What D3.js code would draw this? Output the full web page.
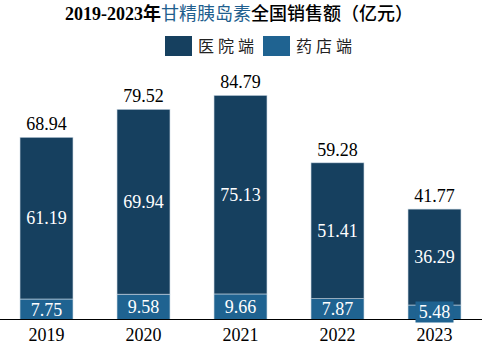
<!DOCTYPE html>
<html>
<head>
<meta charset="utf-8">
<script src="https://cdn.jsdelivr.net/npm/d3@7"></script>
<style>
html,body{margin:0;padding:0;background:#fff;}
svg{display:block;}
</style>
</head>
<body>
<svg id="chart" width="490" height="349"></svg>
<script>
const years = ["2019", "2020", "2021", "2022", "2023"];
const hospital = [61.19, 69.94, 75.13, 51.41, 36.29];
const pharmacy = [7.75, 9.58, 9.66, 7.87, 5.48];
const totals = [68.94, 79.52, 84.79, 59.28, 41.77];
const seriesNames = ["医院端", "药店端"];

const colHosp = "#16405f";
const colPharm = "#1f6391";
const numFont = "'Liberation Serif', 'Times New Roman', serif";
const cjkFont = "'Liberation Serif', 'Noto Sans CJK SC', serif";

const svg = d3.select("#chart");

const x = d3.scaleBand().domain(years).range([-2, 483]).paddingInner(0.454).paddingOuter(0.227);
const y = d3.scaleLinear().domain([0, 100]).range([319.5, 55.2]);

const data = years.map((yr, i) => ({year: yr, hosp: hospital[i], pharm: pharmacy[i], total: totals[i]}));

// pharmacy segments (bottom)
svg.selectAll("rect.pharm").data(data).join("rect")
  .attr("class", "pharm")
  .attr("x", d => x(d.year))
  .attr("width", x.bandwidth())
  .attr("y", d => y(d.pharm))
  .attr("height", d => y(0) - y(d.pharm))
  .attr("fill", colPharm)
  .attr("stroke", "#c9d6e2").attr("stroke-width", 0.6);

// hospital segments (top)
svg.selectAll("rect.hosp").data(data).join("rect")
  .attr("class", "hosp")
  .attr("x", d => x(d.year))
  .attr("width", x.bandwidth())
  .attr("y", d => y(d.pharm + d.hosp))
  .attr("height", d => y(d.pharm) - y(d.pharm + d.hosp))
  .attr("fill", colHosp)
  .attr("stroke", "#c9d6e2").attr("stroke-width", 0.6);

// axis
const xAxis = d3.axisBottom(x).tickSize(0).tickPadding(9);
const gx = svg.append("g").attr("transform", `translate(0,${y(0)})`).call(xAxis);
gx.select(".domain").attr("d", "M0,0H482").attr("stroke", "#000").attr("stroke-width", 1.2);
gx.selectAll("text").attr("font-family", numFont).attr("font-size", 18).attr("fill", "#000").attr("dy", "0.71em");

// hospital labels
svg.selectAll("text.hl").data(data).join("text")
  .attr("class", "hl")
  .attr("x", d => x(d.year) + x.bandwidth() / 2)
  .attr("y", d => (y(d.pharm) + y(d.pharm + d.hosp)) / 2)
  .attr("dy", "0.35em")
  .attr("text-anchor", "middle")
  .attr("font-family", numFont).attr("font-size", 18).attr("fill", "#fff")
  .text(d => d.hosp.toFixed(2));

// pharmacy labels with background box
const pl = svg.selectAll("g.pl").data(data).join("g").attr("class", "pl")
  .attr("transform", d => `translate(${x(d.year) + x.bandwidth() / 2},${Math.min((y(0) + y(d.pharm)) / 2, y(0) - 7.5)})`);
pl.append("rect")
  .attr("x", -19).attr("y", -10.5).attr("width", 38).attr("height", 21)
  .attr("fill", colPharm)
  .attr("display", d => (y(0) - y(d.pharm)) < 18 ? null : "none");
pl.append("text")
  .attr("dy", "0.35em")
  .attr("text-anchor", "middle")
  .attr("font-family", numFont).attr("font-size", 18).attr("fill", "#fff")
  .text(d => d.pharm.toFixed(2));

// totals
svg.selectAll("text.tot").data(data).join("text")
  .attr("class", "tot")
  .attr("x", d => x(d.year) + x.bandwidth() / 2)
  .attr("y", d => y(d.total) - 7)
  .attr("text-anchor", "middle")
  .attr("font-family", numFont).attr("font-size", 18).attr("fill", "#000")
  .text(d => d.total.toFixed(2));

// title
const title = svg.append("text").attr("x", 239).attr("y", 20).attr("text-anchor", "middle")
  .attr("font-size", 18).attr("font-family", cjkFont);
title.append("tspan").attr("font-weight", "bold").attr("fill", "#000").text("2019-2023年");
title.append("tspan").attr("fill", "#1f5f8f").text("甘精胰岛素");
title.append("tspan").attr("fill", "#000").attr("font-weight", 500).text("全国销售额（亿元）");

// legend
const legend = svg.append("g");
const legX = [165, 263];
const legColors = [colHosp, colPharm];
seriesNames.forEach((name, i) => {
  legend.append("rect").attr("x", legX[i]).attr("y", 36).attr("width", 27).attr("height", 20).attr("fill", legColors[i]);
  legend.append("text").attr("x", legX[i] + 33).attr("y", 52)
    .attr("font-family", "'Noto Sans CJK SC', serif").attr("font-size", 16)
    .attr("letter-spacing", 4).attr("fill", "#222").text(name);
});
</script>
</body>
</html>
